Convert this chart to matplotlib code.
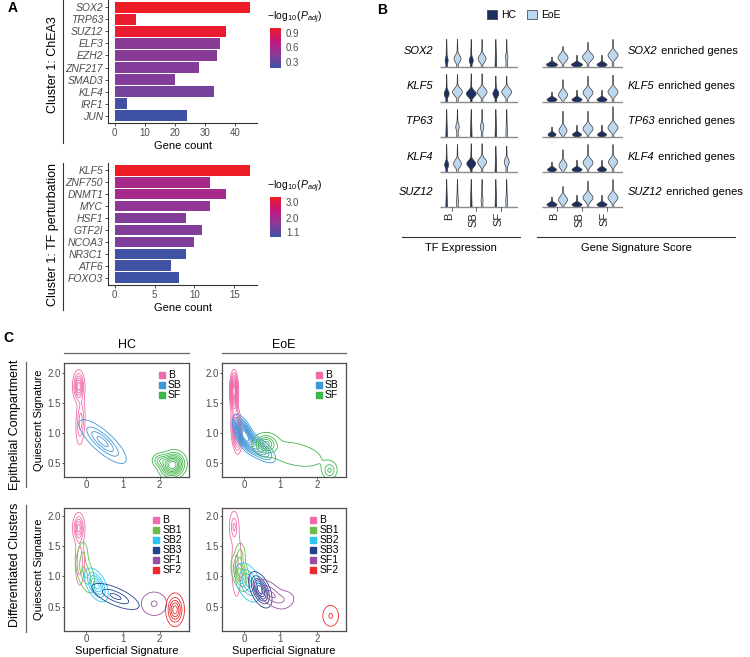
import numpy as np
import matplotlib
matplotlib.use('Agg')
import matplotlib.pyplot as plt
import matplotlib as mpl
from matplotlib.colors import LinearSegmentedColormap, Normalize
from matplotlib.lines import Line2D

plt.rcParams['font.family'] = ['Liberation Sans', 'DejaVu Sans']
plt.rcParams['mathtext.fontset'] = 'custom'
plt.rcParams['mathtext.rm'] = 'Liberation Sans'
plt.rcParams['mathtext.it'] = 'Liberation Sans:italic'

# ---- panel A data ----
chea3_tf = ['SOX2', 'TRP63', 'SUZ12', 'ELF3', 'EZH2', 'ZNF217', 'SMAD3', 'KLF4', 'IRF1', 'JUN']
chea3_count = [45, 7, 37, 35, 34, 28, 20, 33, 4, 24]
chea3_logp = [1.0, 0.97, 0.97, 0.45, 0.44, 0.42, 0.42, 0.37, 0.2, 0.18]

pert_tf = ['KLF5', 'ZNF750', 'DNMT1', 'MYC', 'HSF1', 'GTF2I', 'NCOA3', 'NR3C1', 'ATF6', 'FOXO3']
pert_count = [17, 12, 14, 12, 9, 11, 10, 9, 7, 8]
pert_logp = [3.3, 2.05, 2.05, 1.7, 1.55, 1.55, 1.5, 0.85, 0.85, 0.85]

# ---- panel B data (violin shapes, per gene x group B/SB/SF) ----
vln_genes = ['SOX2', 'KLF5', 'TP63', 'KLF4', 'SUZ12']
vln_groups = ['B', 'SB', 'SF']
tf_hc_w = [[0.06, 0.08, 0.0], [0.1, 0.2, 0.12], [0.03, 0.03, 0.0], [0.08, 0.18, 0.02], [0.015, 0.015, 0.01]]
tf_eoe_w = [[0.14, 0.16, 0.05], [0.2, 0.2, 0.2], [0.07, 0.07, 0.02], [0.16, 0.18, 0.1], [0.04, 0.04, 0.04]]
tf_hc_mid = [[0.2, 0.2, 0.1], [0.25, 0.25, 0.25], [0.1, 0.1, 0.1], [0.22, 0.25, 0.1], [0.1, 0.1, 0.1]]
tf_eoe_mid = [[0.25, 0.25, 0.3], [0.3, 0.3, 0.3], [0.3, 0.3, 0.2], [0.25, 0.3, 0.3], [0.2, 0.2, 0.2]]
tf_top = [[0.8, 0.8, 0.8], [0.8, 0.82, 0.75], [0.8, 0.8, 0.8], [0.8, 0.82, 0.75], [0.8, 0.8, 0.8]]
sig_hc_w = [[0.22, 0.22, 0.2], [0.2, 0.2, 0.2], [0.16, 0.18, 0.18], [0.18, 0.2, 0.18], [0.2, 0.2, 0.2]]
sig_eoe_w = [[0.2, 0.22, 0.2], [0.18, 0.2, 0.2], [0.16, 0.2, 0.2], [0.16, 0.2, 0.18], [0.18, 0.2, 0.2]]
sig_eoe_mid = [[0.28, 0.3, 0.35], [0.22, 0.28, 0.3], [0.2, 0.25, 0.28], [0.2, 0.28, 0.3], [0.22, 0.28, 0.28]]
sig_eoe_top = [[0.6, 0.72, 0.8], [0.65, 0.75, 0.78], [0.75, 0.75, 0.88], [0.65, 0.8, 0.8], [0.6, 0.75, 0.8]]

# ---- panel C data: density components (x, y, sx, sy, rho, weight) ----
hc_epi = [
    ('B', '#F06BAA', 6, [(-0.2, 1.78, 0.08, 0.13, 0.0, 1.0), (-0.15, 1.2, 0.07, 0.22, 0.2, 0.5)]),
    ('SB', '#3D97D8', 4, [(0.45, 0.86, 0.3, 0.17, -0.8, 1.0)]),
    ('SF', '#3FB54A', 8, [(2.35, 0.47, 0.19, 0.12, 0.1, 1.0), (2.0, 0.55, 0.13, 0.07, 0.0, 0.3)]),
]
eoe_epi = [
    ('B', '#F06BAA', 10, [(-0.27, 1.7, 0.06, 0.17, 0.0, 1.0), (-0.2, 1.05, 0.08, 0.2, -0.2, 0.75)]),
    ('SB', '#3D97D8', 10, [(0.0, 1.0, 0.15, 0.15, -0.6, 1.0), (0.38, 0.76, 0.27, 0.14, -0.7, 0.6)]),
    ('SF', '#3FB54A', 5, [(0.6, 0.82, 0.17, 0.09, 0.0, 1.0), (1.4, 0.65, 0.5, 0.14, -0.4, 0.3),
                          (2.35, 0.38, 0.11, 0.08, 0.0, 0.55)]),
]
hc_diff = [
    ('B', '#F06BAA', 5, [(-0.2, 1.8, 0.08, 0.12, 0.0, 1.0), (-0.17, 1.25, 0.07, 0.22, 0.0, 0.5)]),
    ('SB1', '#6BBE45', 3, [(-0.02, 1.05, 0.12, 0.15, -0.5, 1.0), (-0.08, 1.35, 0.07, 0.12, 0.0, 0.5)]),
    ('SB2', '#2BC4F3', 5, [(0.28, 0.86, 0.15, 0.13, -0.5, 1.0)]),
    ('SB3', '#24418F', 3, [(0.8, 0.67, 0.3, 0.1, -0.7, 1.0)]),
    ('SF1', '#9B4FA3', 2, [(1.85, 0.55, 0.16, 0.09, 0.0, 1.0)]),
    ('SF2', '#EE2A2B', 5, [(2.42, 0.45, 0.12, 0.13, 0.0, 1.0)]),
]
eoe_diff = [
    ('B', '#F06BAA', 3, [(-0.27, 1.82, 0.06, 0.12, 0.0, 1.0), (-0.2, 1.2, 0.07, 0.28, 0.0, 0.6)]),
    ('SB1', '#6BBE45', 5, [(-0.1, 1.05, 0.12, 0.14, -0.4, 1.0), (-0.1, 1.35, 0.08, 0.12, 0.0, 0.4)]),
    ('SB2', '#2BC4F3', 4, [(0.12, 0.9, 0.17, 0.15, -0.4, 1.0)]),
    ('SB3', '#24418F', 6, [(0.45, 0.78, 0.15, 0.14, -0.5, 1.0)]),
    ('SF1', '#9B4FA3', 3, [(0.72, 0.72, 0.2, 0.11, -0.6, 1.0), (1.1, 0.63, 0.17, 0.08, 0.0, 0.35)]),
    ('SF2', '#EE2A2B', 2, [(2.38, 0.35, 0.1, 0.08, 0.0, 1.0)]),
]

W, H = 750, 657
fig = plt.figure(figsize=(W / 100, H / 100), dpi=100)
renderer = fig.canvas.get_renderer()


def px_axes(x0, y0, x1, y1):
    return fig.add_axes([x0 / W, 1 - y1 / H, (x1 - x0) / W, (y1 - y0) / H])


def px_text(x, y, s, **kw):
    return fig.text(x / W, 1 - y / H, s, **kw)


def px_line(x0, y0, x1, y1, color='#333333', lw=0.8):
    fig.add_artist(Line2D([x0 / W, x1 / W], [1 - y0 / H, 1 - y1 / H],
                          transform=fig.transFigure, color=color, lw=lw))


grey = '#4D4D4D'
cmap = LinearSegmentedColormap.from_list('bp', ['#3A53A4', '#8B3A98', '#C3177F', '#ED1C24'])


def bar_panel(top, bottom, names, counts, logp, vmin, vmax, ticks, xticks, cb_top):
    ax = px_axes(108, top, 257, bottom)
    norm = Normalize(vmin, vmax)
    y = np.arange(len(names))
    ax.barh(y, counts, height=0.9, color=cmap(norm(np.array(logp))))
    ax.set_ylim(len(names) - 0.4, -0.6)
    ax.set_xlim(-max(counts) * 0.05, max(counts) * 1.05)
    ax.set_yticks(y, names, fontstyle='italic', color=grey, fontsize=7.5)
    ax.set_xticks(xticks, [str(t) for t in xticks], color=grey, fontsize=7)
    for s in ['top', 'right']:
        ax.spines[s].set_visible(False)
    for s in ['left', 'bottom']:
        ax.spines[s].set_color('#333333')
        ax.spines[s].set_linewidth(0.8)
    ax.tick_params(length=2, width=0.6, color='#333333', pad=1.5)
    ax.set_xlabel('Gene count', fontsize=8, labelpad=2)
    cax = px_axes(270, cb_top, 281, cb_top + 40)
    cb = mpl.colorbar.ColorbarBase(cax, cmap=cmap, norm=norm, ticks=ticks)
    cb.outline.set_visible(False)
    cb.ax.set_yticklabels([f'{t:.1f}' for t in ticks], fontsize=7, color=grey)
    cb.ax.tick_params(length=2, width=0.6, color='white', pad=1.5)
    px_text(267, cb_top - 10, r'$-\log_{10}(P_{adj})$', fontsize=7.5, va='center')
    return ax


bar_panel(0, 123, chea3_tf, chea3_count, chea3_logp, 0.17, 1.0, [0.3, 0.6, 0.9], [0, 10, 20, 30, 40], 28)
bar_panel(163, 285, pert_tf, pert_count, pert_logp, 0.8, 3.3, [1.1, 2.0, 3.0], [0, 5, 10, 15], 197)
px_text(53, 65, 'Cluster 1: ChEA3', rotation=90, ha='center', va='center', fontsize=9)
px_line(63, 0, 63, 143)
px_text(53, 235, 'Cluster 1: TF perturbation', rotation=90, ha='center', va='center', fontsize=9)
px_line(63, 163, 63, 310)

# ---- panel B ----
hc_col = '#1C2F5E'
eoe_col = '#BDD7EE'


def violin(ax, x, base, w, mid, sd, top, fc):
    h = np.linspace(0, top, 120)
    tail = 0.03 * (1 - h / top) + 0.004
    prof = np.maximum(w * np.exp(-0.5 * ((h - mid) / sd) ** 2), tail)
    ax.fill_betweenx(base + h, x - prof, x + prof, facecolor=fc, edgecolor='#3A3A3A', lw=0.5)


def vln_block(x0, x1, xmin, xmax, hc_w, eoe_w, hc_mid, eoe_mid, hc_top, eoe_top, hc_sd, eoe_sd):
    ax = px_axes(x0, 32, x1, 210.5)
    ax.set_xlim(xmin, xmax)
    ax.set_ylim(-4.1, 1.0)
    ax.axis('off')
    for r in range(len(vln_genes)):
        base = -r
        ax.plot([xmin, xmax], [base, base], color='#8C8C8C', lw=1.0, solid_capstyle='butt')
        for g in range(3):
            violin(ax, g - 0.22, base, hc_w[r][g], hc_mid[r][g], hc_sd, hc_top[r][g], hc_col)
            violin(ax, g + 0.22, base, eoe_w[r][g], eoe_mid[r][g], eoe_sd, eoe_top[r][g], eoe_col)
    for g, lab in enumerate(vln_groups):
        ax.text(g - 0.1, -4.15, lab, rotation=90, ha='center', va='top', fontsize=8, color='#222222',
                clip_on=False)
        ax.plot([g, g], [-4.0, -4.1], color='#333333', lw=0.5, clip_on=False)
    return ax


vln_block(440, 518, -0.47, 2.7, tf_hc_w, tf_eoe_w, tf_hc_mid, tf_eoe_mid, tf_top, tf_top, 0.09, 0.1)
sig_hc_mid = [[0.08] * 3 for _ in vln_genes]
sig_hc_top = [[0.3, 0.35, 0.35] for _ in vln_genes]
vln_block(542, 623, -0.6, 2.64, sig_hc_w, sig_eoe_w, sig_hc_mid, sig_eoe_mid, sig_hc_top, sig_eoe_top,
          0.05, 0.1)

for r, gname in enumerate(vln_genes):
    yb = 67 + r * 35.2
    px_text(433, yb - 16, gname, ha='right', va='center', fontsize=8, fontstyle='italic')
    t = px_text(628, yb - 16, gname, ha='left', va='center', fontsize=8, fontstyle='italic')
    bb = t.get_window_extent(renderer)
    fig.text(bb.x1 / fig.bbox.width, 1 - (yb - 16) / H, ' enriched genes', ha='left', va='center',
             fontsize=8)

px_line(402, 237, 520, 237)
px_line(537, 237, 735, 237)
px_text(461, 248, 'TF Expression', ha='center', va='center', fontsize=8)
px_text(636, 248, 'Gene Signature Score', ha='center', va='center', fontsize=8)

leg_ax = px_axes(488, 8, 560, 22)
leg_ax.axis('off')
leg_ax.legend(handles=[mpl.patches.Patch(facecolor=hc_col, edgecolor='#333333', lw=0.5, label='HC'),
                       mpl.patches.Patch(facecolor=eoe_col, edgecolor='#333333', lw=0.5, label='EoE')],
              loc='center', ncol=2, frameon=False, fontsize=7.5, handlelength=1.0, handleheight=1.0,
              handletextpad=0.4, columnspacing=1.0, borderpad=0)

# ---- panel C ----
gx = np.linspace(-0.6, 2.8, 340)
gy = np.linspace(0.05, 2.25, 300)
GX, GY = np.meshgrid(gx, gy)


def density(comps):
    Z = np.zeros_like(GX)
    for mx, my, sx, sy, rho, w in comps:
        dx = (GX - mx) / sx
        dy = (GY - my) / sy
        q = (dx ** 2 - 2 * rho * dx * dy + dy ** 2) / (1 - rho ** 2)
        Z += w * np.exp(-0.5 * q)
    return Z / Z.max()


def contour_panel(x0, y0, x1, y1, ylim, clusters, ylabel, xlabel):
    ax = px_axes(x0, y0, x1, y1)
    for name, col, n, comps in clusters:
        Z = density(comps)
        ax.contour(GX, GY, Z, levels=np.linspace(0.1, 0.88, n), colors=col, linewidths=0.6)
    ax.set_xlim(-0.6, 2.8)
    ax.set_ylim(*ylim)
    ax.set_xticks([0, 1, 2], ['0', '1', '2'])
    ax.set_yticks([0.5, 1.0, 1.5, 2.0], ['0.5', '1.0', '1.5', '2.0'])
    ax.tick_params(labelsize=7, labelcolor=grey, length=1.5, width=0.6, color='#333333', pad=1)
    for s in ax.spines.values():
        s.set_color('#4D4D4D')
        s.set_linewidth(0.9)
    handles = [Line2D([], [], marker='s', ls='', color=c, markersize=5, label=nm) for nm, c, _, _ in clusters]
    ax.legend(handles=handles, loc='upper right', frameon=False, fontsize=7.5, handletextpad=0.1,
              labelspacing=0.0, borderaxespad=0.3, handlelength=1.0)
    if ylabel:
        ax.set_ylabel('Quiescent Signature', fontsize=8, labelpad=2)
    if xlabel:
        ax.set_xlabel('Superficial Signature', fontsize=8, labelpad=1)
    return ax


contour_panel(64, 363, 189, 477, (0.27, 2.17), hc_epi, True, False)
contour_panel(222, 363, 346, 477, (0.27, 2.17), eoe_epi, False, False)
contour_panel(64, 508, 189, 631, (0.1, 2.13), hc_diff, True, True)
contour_panel(222, 508, 346, 631, (0.1, 2.13), eoe_diff, False, True)

px_text(127, 345, 'HC', ha='center', va='center', fontsize=9)
px_text(284, 345, 'EoE', ha='center', va='center', fontsize=9)
px_line(64, 353, 189, 353, color='#666666', lw=0.9)
px_line(222, 353, 346, 353, color='#666666', lw=0.9)
px_text(15, 425, 'Epithelial Compartment', rotation=90, ha='center', va='center', fontsize=9)
px_text(15, 565, 'Differentiated Clusters', rotation=90, ha='center', va='center', fontsize=9)
px_line(26, 362, 26, 487, color='#666666', lw=0.9)
px_line(26, 505, 26, 632, color='#666666', lw=0.9)

px_text(8, 8, 'A', fontsize=10, fontweight='bold', va='center')
px_text(377, 10, 'B', fontsize=10, fontweight='bold', va='center')
px_text(3, 338, 'C', fontsize=10, fontweight='bold', va='center')

fig.savefig('out.png', dpi=100)
